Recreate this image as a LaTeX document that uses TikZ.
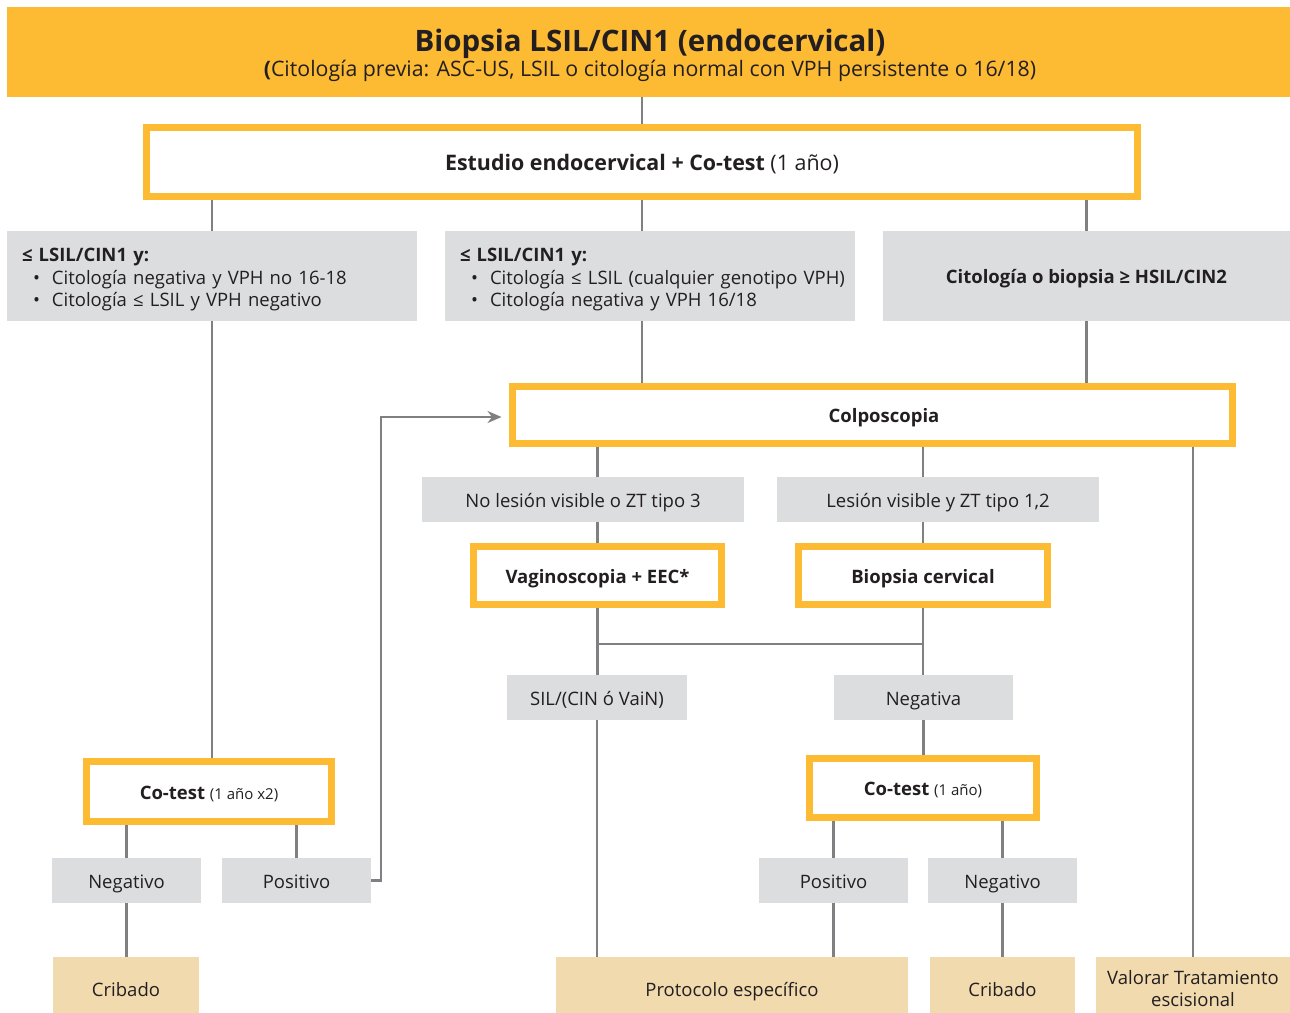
\documentclass[tikz,border=0pt]{standalone}
\usepackage{fontspec}
\setmainfont{Open Sans}
\usetikzlibrary{arrows.meta,calc,backgrounds}

\definecolor{ambar}{RGB}{253,186,51}
\definecolor{gris}{RGB}{220,221,223}
\definecolor{beige}{RGB}{242,218,175}
\definecolor{linea}{RGB}{128,128,131}
\definecolor{tinta}{RGB}{35,31,32}

\newcommand{\fsz}[2]{\fontsize{#1}{#2}\selectfont}
\newcommand{\vineta}[1]{\mbox{\hspace*{11pt}\makebox[19pt][l]{•}#1}}

\tikzset{
  base/.style={inner sep=0pt, text=tinta, font=\fsz{18.5}{22.5}, align=center},
  % single-line labels: cap height centred in the box
  one/.style={text height=15.5pt, text depth=0pt},
  ybox/.style={base, one, draw=ambar, line width=7pt, fill=white},
  gbox/.style={base, one, fill=gris},
  finbox/.style={base, fill=beige},
  conn/.style={draw=linea, line width=2.5pt}
}

\begin{document}
\begin{tikzpicture}[x=1pt,y=-1pt]
\useasboundingbox (0,0) rectangle (1290,1012);

% header band
\node[fill=ambar, minimum width=1283pt, minimum height=90pt, inner sep=0pt] (header) at (648.5,52) {};
\node[base, font=\fsz{29.5}{34}\bfseries, text height=21pt, text depth=0pt] (titulo) at (650,41)
  {Biopsia LSIL/CIN1 (endocervical)};
\node[base, font=\fsz{21.3}{25}, text height=15.2pt, text depth=0pt] (subtitulo) at (650,69)
  {\textbf{(}Citología previa: ASC-US, LSIL o citología normal con VPH persistente o 16/18)};

% first level
\node[ybox, font=\fsz{21.4}{25}, text height=17.5pt, minimum width=991pt, minimum height=69pt] (estudio) at (642,162)
  {\textbf{Estudio endocervical + Co-test} (1 año)};

\node[gbox, minimum width=410pt, minimum height=90pt] (g1) at (212,276) {};
\node[base, text width=380pt, align=left] (g1txt) at (212,280)
  {\textbf{≤ LSIL/CIN1 y:}\\
   \vineta{Citología negativa y VPH no 16-18}\\
   \vineta{Citología ≤ LSIL y VPH negativo}};
\node[gbox, minimum width=410pt, minimum height=90pt] (g2) at (650,276) {};
\node[base, text width=380pt, align=left] (g2txt) at (650,280)
  {\textbf{≤ LSIL/CIN1 y:}\\
   \vineta{Citología ≤ LSIL (cualquier genotipo VPH)}\\
   \vineta{Citología negativa y VPH 16/18}};
\node[gbox, minimum width=407pt, minimum height=90pt] (g3) at (1086.5,276)
  {\textbf{Citología o biopsia ≥ HSIL/CIN2}};

% colposcopy branch
\node[ybox, minimum width=720pt, minimum height=57pt] (colpo) at (872.5,415)
  {\hspace*{23pt}\textbf{Colposcopia}};
\node[gbox, minimum width=322pt, minimum height=45pt] (nolesion) at (583,499.5) {No lesión visible o ZT tipo 3};
\node[gbox, minimum width=322pt, minimum height=45pt] (lesion) at (938,499.5) {Lesión visible y ZT tipo 1,2};
\node[ybox, minimum width=248pt, minimum height=58pt] (vag) at (597.5,575.5) {\textbf{Vaginoscopia + EEC*}};
\node[ybox, minimum width=249pt, minimum height=58pt] (biop) at (923,575.5) {\textbf{Biopsia cervical}};
\node[gbox, minimum width=180pt, minimum height=45pt] (sil) at (597,697.5) {SIL/(CIN ó VaiN)};
\node[gbox, minimum width=179pt, minimum height=45pt] (negativa) at (923.5,697.5) {Negativa};
\node[ybox, minimum width=227pt, minimum height=59pt] (cotest2) at (923,788)
  {\textbf{Co-test} {\fsz{15}{18}(1 año)}};
\node[gbox, minimum width=149pt, minimum height=45pt] (pos2) at (833.5,880.5) {Positivo};
\node[gbox, minimum width=149pt, minimum height=45pt] (neg2) at (1002.5,880.5) {Negativo};
\node[finbox, one, minimum width=352pt, minimum height=63pt] (proto) at (732,988.5) {Protocolo específico};
\node[finbox, one, minimum width=145pt, minimum height=63pt] (cribado2) at (1002.5,988.5) {Cribado};
\node[finbox, minimum width=194pt, minimum height=63pt, font=\fsz{18.5}{22}] (valorar) at (1193,988.5)
  {Valorar Tratamiento\\escisional};

% follow-up branch
\node[ybox, minimum width=245pt, minimum height=60pt] (cotest1) at (209,791.5)
  {\textbf{Co-test} {\fsz{15}{18}(1 año x2)}};
\node[gbox, minimum width=149pt, minimum height=45pt] (neg1) at (126.5,880.5) {Negativo};
\node[gbox, minimum width=149pt, minimum height=45pt] (pos1) at (296.5,880.5) {Positivo};
\node[finbox, one, minimum width=146pt, minimum height=63pt] (cribado1) at (126,988.5) {Cribado};

\coordinate (junta) at (0,644);

\begin{scope}[on background layer]
  \draw[conn] (estudio.north |- header.south) -- (estudio.north);
  \draw[conn] (estudio.south -| g1.north) -- (g1.north);
  \draw[conn] (estudio.south) -- (estudio.south |- g2.north);
  \draw[conn] (estudio.south -| g3.north) -- (g3.north);
  \draw[conn] (g1.south) -- (g1.south |- cotest1.north);
  \draw[conn] (estudio.south |- g2.south) -- (estudio.south |- colpo.north);
  \draw[conn] (g3.south) -- (g3.south |- colpo.north);
  \draw[conn] (colpo.south -| vag.north) -- (nolesion.north -| vag.north);
  \draw[conn] (nolesion.south -| vag.north) -- (vag.north);
  \draw[conn] (colpo.south -| biop.north) -- (lesion.north -| biop.north);
  \draw[conn] (lesion.south -| biop.north) -- (biop.north);
  \draw[conn] (colpo.south -| valorar.north) -- (valorar.north);
  \draw[conn] (vag.south) -- (vag.south |- sil.north);
  \draw[conn] (biop.south) -- (biop.south |- negativa.north);
  \draw[conn] (vag.south |- junta) -- (biop.south |- junta);
  \draw[conn] (sil.south) -- (sil.south |- proto.north);
  \draw[conn] (negativa.south) -- (negativa.south |- cotest2.north);
  \draw[conn] (cotest2.south -| pos2.north) -- (pos2.north);
  \draw[conn] (cotest2.south -| neg2.north) -- (neg2.north);
  \draw[conn] (pos2.south) -- (pos2.south |- proto.north);
  \draw[conn] (neg2.south) -- (neg2.south |- cribado2.north);
  \draw[conn] (cotest1.south -| neg1.north) -- (neg1.north);
  \draw[conn] (cotest1.south -| pos1.north) -- (pos1.north);
  \draw[conn] (neg1.south) -- (neg1.south |- cribado1.north);
  \draw[conn, -{Stealth[length=14pt,width=12pt]}, shorten >=7.5pt]
    (pos1.east) -- ++(10,0) |- ($(colpo.west)+(0,2)$);
\end{scope}
\end{tikzpicture}
\end{document}
